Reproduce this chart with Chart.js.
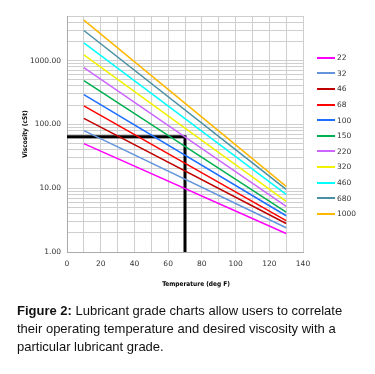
<!DOCTYPE html>
<html>
<head>
<meta charset="utf-8">
<script src="https://cdn.jsdelivr.net/npm/chart.js@4"></script>
<style>
  body { margin: 0; background: #fff; width: 375px; height: 374px; overflow: hidden; }
  #wrap { position: absolute; left: 0; top: 0; width: 375px; height: 295px; }
  #legend { position: absolute; left: 317px; top: 50px; font: 7.5px "DejaVu Sans", sans-serif; color: #333; }
  #legend div { height: 15.6px; display: flex; align-items: center; }
  #legend span.l { display: inline-block; width: 18px; height: 2px; margin-right: 2px; }
  #xtitle { position: absolute; left: 146px; width: 100px; top: 280px; text-align: center;
            font: bold 6.5px "DejaVu Sans Condensed", "DejaVu Sans", sans-serif; color: #000; }
  #caption { position: absolute; left: 17px; top: 302px; font: 13px "Liberation Sans", Arial, sans-serif; line-height: 18px; color: #111; }
</style>
</head>
<body>
<div id="wrap"><canvas id="myChart"></canvas></div>
<div id="legend"></div>
<div id="xtitle">Temperature (deg F)</div>
<div id="caption"><b>Figure 2:</b> Lubricant grade charts allow users to correlate<br>their operating temperature and desired viscosity with a<br>particular lubricant grade.</div>
<script>
// Lubricant grades, viscosity at 10 F and at 130 F
const grades = ['22', '32', '46', '68', '100', '150', '220', '320', '460', '680', '1000'];
const temps = [10, 130];
const viscAt10 = [50, 80, 124, 195, 292, 485, 776, 1230, 1900, 2960, 4300];
const viscAt130 = [1.95, 2.4, 2.8, 3.1, 3.7, 4.2, 5.2, 6.2, 8.0, 9.6, 10.7];
const colors = ['#FF00FF', '#6495DC', '#C00000', '#FF0000', '#1E6FFF', '#00B050',
                '#CC66FF', '#F2F200', '#00FFFF', '#4A8FA3', '#FFB800'];

// Example reading: 70 deg F -> about 64 cSt
const markX = [0, 70, 70];
const markY = [64, 64, 1];

const datasets = grades.map((g, i) => ({
    label: g,
    data: temps.map((t, j) => ({ x: t, y: j === 0 ? viscAt10[i] : viscAt130[i] })),
    borderColor: colors[i],
    borderWidth: 1.5,
    pointRadius: 0,
    fill: false
}));
datasets.push({
    label: 'marker',
    data: markX.map((x, i) => ({ x: x, y: markY[i] })),
    borderColor: '#000',
    borderWidth: 3,
    pointRadius: 0,
    fill: false
});

// Legend
const legend = document.getElementById('legend');
grades.forEach((g, i) => {
    const row = document.createElement('div');
    row.innerHTML = '<span class="l" style="background:' + colors[i] + '"></span>' + g;
    legend.appendChild(row);
});

const minorTicks = [];
for (let e = 0; e <= 3; e++) {
    for (let m = 1; m <= 9; m++) {
        const v = m * Math.pow(10, e);
        if (v <= 5000) minorTicks.push(v);
    }
}

const tickFont = { family: 'DejaVu Sans', size: 7.5 };
const titleFont = { family: 'DejaVu Sans Condensed', size: 6.5, weight: 'bold' };

new Chart(document.getElementById('myChart'), {
    type: 'line',
    data: { datasets: datasets },
    options: {
        responsive: true,
        maintainAspectRatio: false,
        animation: false,
        layout: { padding: { top: 16, right: 72, left: 0, bottom: 0 } },
        plugins: { legend: { display: false }, tooltip: { enabled: false } },
        scales: {
            x: {
                type: 'linear',
                min: 0,
                max: 140,
                ticks: {
                    stepSize: 10,
                    color: '#333',
                    font: tickFont,
                    maxRotation: 0,
                    autoSkip: false,
                    padding: 8,
                    callback: v => (v % 20 === 0 ? v : '')
                },
                grid: { color: '#cfcfcf', drawTicks: false },
                border: { color: '#aaa' },
                afterFit: s => { s.height = 43; }
            },
            y: {
                type: 'logarithmic',
                min: 1,
                max: 5000,
                afterBuildTicks: s => { s.ticks = minorTicks.map(v => ({ value: v })); },
                ticks: {
                    color: '#333',
                    font: tickFont,
                    autoSkip: false,
                    padding: 6,
                    callback: v => ([1, 10, 100, 1000].includes(v) ? v.toFixed(2) : '')
                },
                grid: { color: '#cfcfcf', drawTicks: false },
                border: { color: '#aaa' },
                title: { display: true, text: 'Viscosity (cSt)', color: '#000', font: titleFont, padding: { top: 21, bottom: 0 } },
                afterFit: s => { s.width = 67; }
            }
        }
    }
});
</script>
</body>
</html>
